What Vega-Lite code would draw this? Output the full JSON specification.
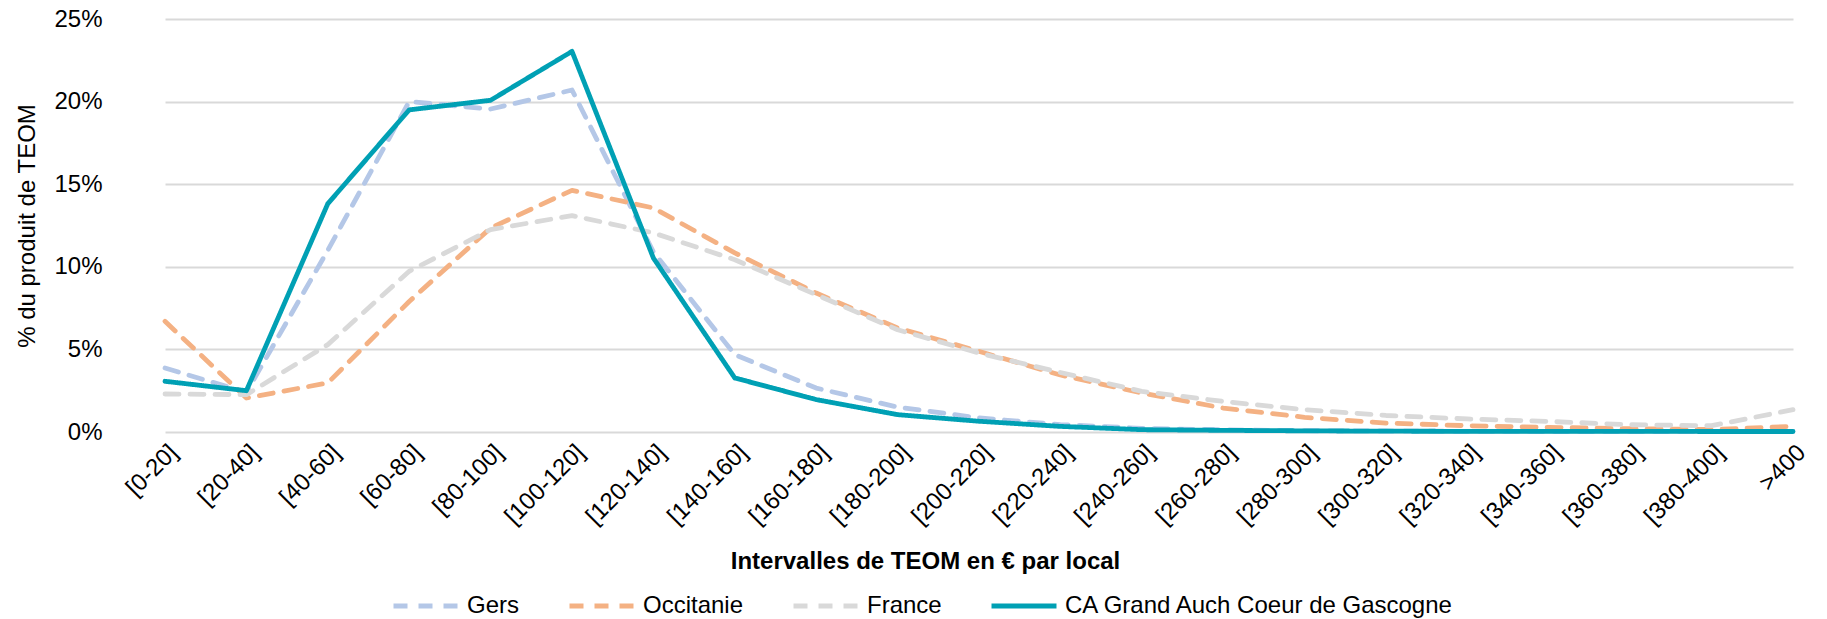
{
  "$schema": "https://vega.github.io/schema/vega-lite/v6.json",
  "autosize": {"type": "none"},
  "width": 1702,
  "height": 413,
  "padding": {"left": 125, "top": 19, "right": 0, "bottom": 187},
  "background": "white",
  "config": {
    "font": "Liberation Sans",
    "view": {"stroke": null},
    "axis": {"labelColor": "#000000", "titleColor": "#000000", "labelFont": "Liberation Sans", "titleFont": "Liberation Sans"},
    "legend": {"labelColor": "#000000", "labelFont": "Liberation Sans"}
  },
  "data": {
    "values": [
      {"intervalle": "[0-20]", "serie": "Gers", "pct": 3.87},
      {"intervalle": "[20-40]", "serie": "Gers", "pct": 2.4},
      {"intervalle": "[40-60]", "serie": "Gers", "pct": 11.0},
      {"intervalle": "[60-80]", "serie": "Gers", "pct": 20.0},
      {"intervalle": "[80-100]", "serie": "Gers", "pct": 19.55},
      {"intervalle": "[100-120]", "serie": "Gers", "pct": 20.7},
      {"intervalle": "[120-140]", "serie": "Gers", "pct": 10.9},
      {"intervalle": "[140-160]", "serie": "Gers", "pct": 4.68},
      {"intervalle": "[160-180]", "serie": "Gers", "pct": 2.66},
      {"intervalle": "[180-200]", "serie": "Gers", "pct": 1.51},
      {"intervalle": "[200-220]", "serie": "Gers", "pct": 0.85},
      {"intervalle": "[220-240]", "serie": "Gers", "pct": 0.45},
      {"intervalle": "[240-260]", "serie": "Gers", "pct": 0.22},
      {"intervalle": "[260-280]", "serie": "Gers", "pct": 0.13},
      {"intervalle": "[280-300]", "serie": "Gers", "pct": 0.08},
      {"intervalle": "[300-320]", "serie": "Gers", "pct": 0.06},
      {"intervalle": "[320-340]", "serie": "Gers", "pct": 0.04},
      {"intervalle": "[340-360]", "serie": "Gers", "pct": 0.03},
      {"intervalle": "[360-380]", "serie": "Gers", "pct": 0.03},
      {"intervalle": "[380-400]", "serie": "Gers", "pct": 0.02},
      {"intervalle": ">400", "serie": "Gers", "pct": 0.03},

      {"intervalle": "[0-20]", "serie": "Occitanie", "pct": 6.7},
      {"intervalle": "[20-40]", "serie": "Occitanie", "pct": 2.06},
      {"intervalle": "[40-60]", "serie": "Occitanie", "pct": 2.97},
      {"intervalle": "[60-80]", "serie": "Occitanie", "pct": 7.9},
      {"intervalle": "[80-100]", "serie": "Occitanie", "pct": 12.35},
      {"intervalle": "[100-120]", "serie": "Occitanie", "pct": 14.63},
      {"intervalle": "[120-140]", "serie": "Occitanie", "pct": 13.56},
      {"intervalle": "[140-160]", "serie": "Occitanie", "pct": 10.84},
      {"intervalle": "[160-180]", "serie": "Occitanie", "pct": 8.41},
      {"intervalle": "[180-200]", "serie": "Occitanie", "pct": 6.3},
      {"intervalle": "[200-220]", "serie": "Occitanie", "pct": 4.88},
      {"intervalle": "[220-240]", "serie": "Occitanie", "pct": 3.45},
      {"intervalle": "[240-260]", "serie": "Occitanie", "pct": 2.36},
      {"intervalle": "[260-280]", "serie": "Occitanie", "pct": 1.45},
      {"intervalle": "[280-300]", "serie": "Occitanie", "pct": 0.89},
      {"intervalle": "[300-320]", "serie": "Occitanie", "pct": 0.54},
      {"intervalle": "[320-340]", "serie": "Occitanie", "pct": 0.38},
      {"intervalle": "[340-360]", "serie": "Occitanie", "pct": 0.28},
      {"intervalle": "[360-380]", "serie": "Occitanie", "pct": 0.2},
      {"intervalle": "[380-400]", "serie": "Occitanie", "pct": 0.15},
      {"intervalle": ">400", "serie": "Occitanie", "pct": 0.34},

      {"intervalle": "[0-20]", "serie": "France", "pct": 2.3},
      {"intervalle": "[20-40]", "serie": "France", "pct": 2.26},
      {"intervalle": "[40-60]", "serie": "France", "pct": 5.29},
      {"intervalle": "[60-80]", "serie": "France", "pct": 9.73},
      {"intervalle": "[80-100]", "serie": "France", "pct": 12.25},
      {"intervalle": "[100-120]", "serie": "France", "pct": 13.1},
      {"intervalle": "[120-140]", "serie": "France", "pct": 12.05},
      {"intervalle": "[140-160]", "serie": "France", "pct": 10.43},
      {"intervalle": "[160-180]", "serie": "France", "pct": 8.31},
      {"intervalle": "[180-200]", "serie": "France", "pct": 6.19},
      {"intervalle": "[200-220]", "serie": "France", "pct": 4.78},
      {"intervalle": "[220-240]", "serie": "France", "pct": 3.6},
      {"intervalle": "[240-260]", "serie": "France", "pct": 2.46},
      {"intervalle": "[260-280]", "serie": "France", "pct": 1.85},
      {"intervalle": "[280-300]", "serie": "France", "pct": 1.35},
      {"intervalle": "[300-320]", "serie": "France", "pct": 1.0},
      {"intervalle": "[320-340]", "serie": "France", "pct": 0.79},
      {"intervalle": "[340-360]", "serie": "France", "pct": 0.64},
      {"intervalle": "[360-380]", "serie": "France", "pct": 0.44},
      {"intervalle": "[380-400]", "serie": "France", "pct": 0.38},
      {"intervalle": ">400", "serie": "France", "pct": 1.35},

      {"intervalle": "[0-20]", "serie": "CA Grand Auch Coeur de Gascogne", "pct": 3.07},
      {"intervalle": "[20-40]", "serie": "CA Grand Auch Coeur de Gascogne", "pct": 2.5},
      {"intervalle": "[40-60]", "serie": "CA Grand Auch Coeur de Gascogne", "pct": 13.82},
      {"intervalle": "[60-80]", "serie": "CA Grand Auch Coeur de Gascogne", "pct": 19.5},
      {"intervalle": "[80-100]", "serie": "CA Grand Auch Coeur de Gascogne", "pct": 20.08},
      {"intervalle": "[100-120]", "serie": "CA Grand Auch Coeur de Gascogne", "pct": 23.04},
      {"intervalle": "[120-140]", "serie": "CA Grand Auch Coeur de Gascogne", "pct": 10.53},
      {"intervalle": "[140-160]", "serie": "CA Grand Auch Coeur de Gascogne", "pct": 3.27},
      {"intervalle": "[160-180]", "serie": "CA Grand Auch Coeur de Gascogne", "pct": 1.96},
      {"intervalle": "[180-200]", "serie": "CA Grand Auch Coeur de Gascogne", "pct": 1.05},
      {"intervalle": "[200-220]", "serie": "CA Grand Auch Coeur de Gascogne", "pct": 0.65},
      {"intervalle": "[220-240]", "serie": "CA Grand Auch Coeur de Gascogne", "pct": 0.34},
      {"intervalle": "[240-260]", "serie": "CA Grand Auch Coeur de Gascogne", "pct": 0.14},
      {"intervalle": "[260-280]", "serie": "CA Grand Auch Coeur de Gascogne", "pct": 0.1},
      {"intervalle": "[280-300]", "serie": "CA Grand Auch Coeur de Gascogne", "pct": 0.07},
      {"intervalle": "[300-320]", "serie": "CA Grand Auch Coeur de Gascogne", "pct": 0.05},
      {"intervalle": "[320-340]", "serie": "CA Grand Auch Coeur de Gascogne", "pct": 0.04},
      {"intervalle": "[340-360]", "serie": "CA Grand Auch Coeur de Gascogne", "pct": 0.04},
      {"intervalle": "[360-380]", "serie": "CA Grand Auch Coeur de Gascogne", "pct": 0.04},
      {"intervalle": "[380-400]", "serie": "CA Grand Auch Coeur de Gascogne", "pct": 0.03},
      {"intervalle": ">400", "serie": "CA Grand Auch Coeur de Gascogne", "pct": 0.03}
    ]
  },
  "mark": {"type": "line", "strokeCap": "round", "strokeJoin": "round"},
  "encoding": {
    "x": {
      "field": "intervalle",
      "type": "ordinal",
      "sort": null,
      "scale": {"type": "point", "range": [40, 1668], "padding": 0},
      "axis": {
        "title": "Intervalles de TEOM en € par local",
        "titleFontSize": 24,
        "titleFontWeight": "bold",
        "titleX": 800,
        "titleY": 136,
        "titleAlign": "center",
        "titleBaseline": "alphabetic",
        "labelAngle": -45,
        "labelFontSize": 24,
        "labelPadding": 8,
        "domain": false,
        "ticks": false,
        "grid": false
      }
    },
    "y": {
      "field": "pct",
      "type": "quantitative",
      "scale": {"domain": [0, 25], "nice": false},
      "axis": {
        "title": "% du produit de TEOM",
        "titleFontSize": 24,
        "titleFontWeight": "normal",
        "titlePadding": 14,
        "values": [0, 5, 10, 15, 20, 25],
        "labelExpr": "datum.value + '%'",
        "labelFontSize": 24,
        "labelPadding": 23,
        "domain": false,
        "ticks": false,
        "grid": true,
        "gridColor": "#D9D9D9",
        "gridWidth": 2
      }
    },
    "color": {
      "field": "serie",
      "type": "nominal",
      "sort": ["Gers", "Occitanie", "France", "CA Grand Auch Coeur de Gascogne"],
      "scale": {
        "domain": ["Gers", "Occitanie", "France", "CA Grand Auch Coeur de Gascogne"],
        "range": ["#B4C7E7", "#F4B183", "#D9D9D9", "#00A0B4"]
      },
      "legend": {
        "title": null,
        "orient": "none",
        "direction": "horizontal",
        "legendX": 266,
        "legendY": 552,
        "symbolType": "stroke",
        "symbolSize": 4225,
        "labelFontSize": 24,
        "labelOffset": 6,
        "labelLimit": 0,
        "columnPadding": 39
      }
    },
    "strokeDash": {
      "field": "serie",
      "type": "nominal",
      "sort": ["Gers", "Occitanie", "France", "CA Grand Auch Coeur de Gascogne"],
      "scale": {
        "domain": ["Gers", "Occitanie", "France", "CA Grand Auch Coeur de Gascogne"],
        "range": [[14, 11], [14, 11], [14, 11], [1, 0]]
      },
      "legend": null
    },
    "strokeWidth": {
      "field": "serie",
      "type": "nominal",
      "sort": ["Gers", "Occitanie", "France", "CA Grand Auch Coeur de Gascogne"],
      "scale": {
        "domain": ["Gers", "Occitanie", "France", "CA Grand Auch Coeur de Gascogne"],
        "range": [4.8, 4.8, 4.8, 6.5]
      },
      "legend": null
    }
  }
}
